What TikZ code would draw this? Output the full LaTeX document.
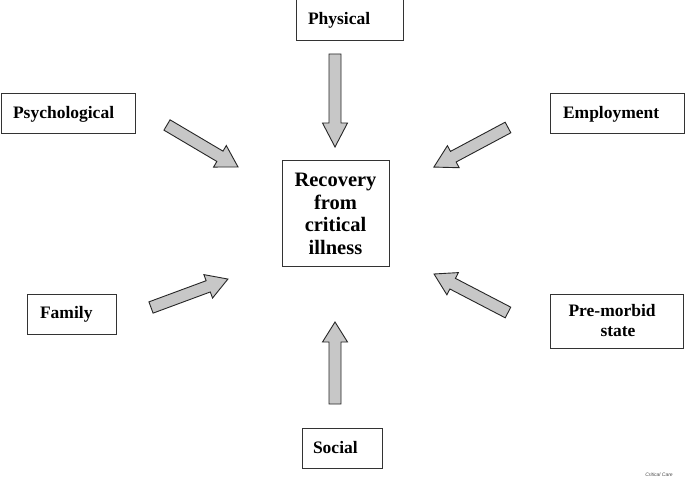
\documentclass[tikz,border=0pt]{standalone}
\usepackage{fontspec}
\setmainfont{Liberation Serif}
\newfontfamily\capfont{Liberation Sans}
\newcommand\blockarrow[5]{%
  \begin{scope}[shift={(#1,#2)},rotate=#3]
    \draw[barrow] (0,-6)--(#4-#5,-6)--(#4-#5,-12.5)--(#4,0)--(#4-#5,12.5)--(#4-#5,6)--(0,6)--cycle;
  \end{scope}}
\begin{document}
\begin{tikzpicture}[x=1pt,y=-1pt,
  box/.style={draw=black!80, line width=1pt, rectangle,
    font=\fontsize{17.5}{20}\selectfont\bfseries, align=left, inner ysep=0pt},
  barrow/.style={draw=black!85, fill=black!22, line width=0.9pt, line join=miter}]
\useasboundingbox[fill=white] (0,0) rectangle (685,478);

\node[box, text width=83pt, inner xsep=12pt, minimum height=41pt] (phys) at (349.5,20.5) {Physical};
\node[box, text width=110pt, inner xsep=12pt, minimum height=40pt] (psych) at (68,114) {Psychological};
\node[box, text width=108pt, inner xsep=13pt, minimum height=40pt] (empl) at (617,114) {Employment};
\node[box, text width=63pt, inner xsep=13pt, minimum height=40pt] (fam) at (71.5,314) {Family};
\node[box, text width=58pt, inner xsep=11pt, minimum height=40pt] (soc) at (342,448) {Social};
\node[box, text width=97pt, inner xsep=18pt, minimum height=54pt] (pre) at (617,321) {Pre-morbid\\\hspace*{32pt}state};

\node[draw=black!80, line width=1pt, rectangle, minimum width=107pt, minimum height=106pt,
  align=center, font=\fontsize{20.5}{22.7}\selectfont\bfseries] (rec) at (335.5,214)
  {Recovery\\from\\critical\\illness};

\blockarrow{335}{54}{-90}{93}{24}
\blockarrow{335}{404}{90}{82}{20}
\blockarrow{167}{125}{-30.6}{82.5}{21}
\blockarrow{508}{127.5}{208.1}{84}{22}
\blockarrow{151}{307.5}{20.3}{82}{21}
\blockarrow{508}{312.5}{152.5}{83.4}{21}

\node[font=\capfont\itshape\fontsize{5}{6}\selectfont, text=black!70] (cc) at (659,474.5) {Critical Care};
\end{tikzpicture}
\end{document}
